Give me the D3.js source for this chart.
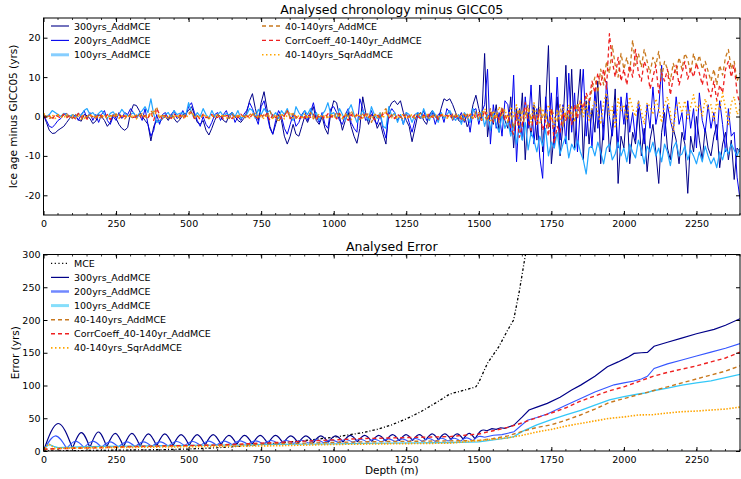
<!DOCTYPE html>
<html>
<head>
<meta charset="utf-8">
<script src="https://cdn.jsdelivr.net/npm/d3@7"></script>
<style>
  body { margin: 0; background: #fff; }
  svg text { font-family: "DejaVu Sans", sans-serif; fill: #000; }
</style>
</head>
<body>
<svg id="chart" width="741" height="479"></svg>
<script>
// ---------- top panel: ice age minus GICC05 (yrs), sampled every 10 m ----------
var topDepths = d3.range(0, 2410, 10);

var age300 = [
  0.5, -1.5, -3.5, -4.3, -4.2, -3.5, -3.0, -2.5, -1.5, -0.5,
  0.5, 0.0, -0.8, -1.2, 0.5, 0.2, -0.5, -1.8, -1.2, 0.5,
  0.0, -1.0, -2.5, -1.5, 0.5, -0.5, -2.0, -3.0, -3.5, -2.8,
  1.0, 3.0, 2.8, 1.5, 0.0, -1.0, -2.0, -6.2, -2.5, -1.0,
  -1.5, -0.5, 0.0, -1.0, 0.5, -0.5, -1.5, -0.8, 0.5, 0.8,
  1.5, 2.5, 0.5, -1.5, -2.0, -1.0, -3.5, -4.7, -3.0, -1.0,
  0.5, 0.0, -1.0, -1.5, 0.5, 1.0, 0.0, -1.0, -1.5, -0.5,
  1.0, 4.0, 5.8, 2.0, -1.0, 3.5, 6.3, 2.0, -2.5, -4.5,
  -2.0, 0.5, -1.0, -5.0, -7.0, -5.0, -2.0, -4.5, -5.0, -2.5,
  0.0, -1.5, 0.5, 2.5, -1.0, -2.0, 0.0, -3.0, -4.5, 1.0,
  4.0, 3.5, 0.0, -3.5, -1.0, 1.0, -2.5, -5.0, -6.8, -3.0,
  5.0, 1.0, -2.0, 0.5, 0.0, -3.0, -1.5, -4.5, -7.0, 2.0,
  3.5, 4.0, 3.0, 4.0, 1.0, -1.0, -2.5, -6.4, -3.0, 0.5,
  1.0, -1.0, -2.0, 0.5, 1.5, 0.0, -1.0, 2.0, 4.5, 4.0,
  4.5, 3.0, 1.0, -1.0, -1.5, 0.5, -2.6, -1.0, 3.0, 5.4,
  2.0, -1.0, 16.0, -5.2, 1.0, -2.0, 3.0, -4.0, 2.0, -1.0,
  -3.0, 5.0, -8.0, 2.0, -4.0, 6.0, -11.0, 1.0, -5.0, 3.0,
  -6.0, 8.0, -9.0, 2.0, 18.0, -12.0, -4.0, 5.0, -10.0, -2.0,
  13.0, -6.0, 12.0, -8.0, 3.0, 12.0, -11.0, 4.0, -7.0, 2.0,
  -4.0, 9.0, -12.0, -2.0, 5.0, -9.0, -3.0, 7.0, -17.0, -5.0,
  -8.0, 3.0, -12.0, -4.0, -7.0, 2.0, -10.0, -3.0, -14.0, -6.0,
  -2.0, -9.0, -17.0, -4.0, 1.0, -8.0, -11.0, -3.0, -6.0, -12.0,
  -4.0, -7.0, -19.5, -5.0, -9.0, 0.0, -6.0, -11.0, -3.0, -8.0,
  -10.0, -5.0, -2.0, -13.0, -7.0, -4.0, -11.0, -6.0, -16.0, -8.0,
  -9.0
];

var age200 = [
  0.3, -1.0, -2.5, -2.8, -2.0, -1.0, -0.5, 0.5, 0.8, 0.0,
  -0.5, 0.5, -1.0, 0.5, 1.5, -0.5, 1.0, -1.0, 0.5, -1.5,
  0.5, 1.5, -1.0, -2.0, 0.0, -1.0, 1.0, -0.5, 1.0, 0.5,
  2.0, 1.0, -0.5, 0.5, -1.0, 2.0, -2.0, -5.0, -3.5, 0.5,
  -2.0, 0.5, 1.0, -0.5, 0.5, 1.5, -0.5, 0.0, 1.5, 0.0,
  2.5, 3.5, 1.0, -1.0, -2.5, 0.0, -2.0, -3.0, -1.5, 0.5,
  1.0, -1.0, 0.5, 1.5, -0.5, 1.0, -1.5, 0.0, -1.0, 0.5,
  1.5, 3.5, 2.0, 0.0, -2.0, 2.5, 4.0, 0.5, -3.0, -4.5,
  -1.0, 1.5, 0.0, -3.0, -4.5, -2.0, 0.5, -2.5, -1.5, 0.5,
  1.5, -1.0, 1.0, 3.5, 0.0, -1.5, 1.0, -2.0, -3.0, 2.0,
  2.5, 1.0, -1.0, -2.0, 0.5, 2.0, -1.5, -3.0, -4.0, 4.5,
  2.0, -1.0, -0.5, 1.5, -1.0, -2.0, 0.5, -3.0, -5.5, 0.5,
  2.0, 1.0, -1.0, 0.5, -2.0, 1.0, -1.5, -4.0, -1.0, 1.0,
  -0.5, 1.5, -1.0, 0.0, 1.0, -2.0, 0.5, 1.0, -1.5, 2.0,
  1.0, -1.0, 0.5, -0.5, 1.0, -1.5, 0.5, -4.0, 1.5, 2.0,
  -2.0, 1.0, 3.0, 12.0, -7.0, 3.0, -3.0, 1.0, -5.0, 4.0,
  3.0, -4.0, 10.5, -11.5, 2.0, -6.0, 5.0, -3.0, 8.0, -7.0,
  2.0, -10.3, -15.7, 5.0, -3.0, 6.0, -8.0, 10.0, -6.0, 3.0,
  -7.0, 11.0, -4.0, 6.0, -9.0, 2.0, 12.0, -5.0, 4.0, -8.0,
  7.0, -3.0, 4.0, -6.0, 9.0, 0.0, -5.0, 3.0, -8.0, 5.0,
  -2.0, 6.0, -4.0, 1.0, -6.0, 4.0, -1.0, -7.0, 3.0, -3.0,
  7.5, -2.0, 2.0, 13.0, -5.0, 3.0, -1.0, -4.0, 5.0, -2.0,
  1.0, -6.0, 4.0, -3.0, 2.0, -8.0, 6.0, -1.0, -4.0, 3.0,
  -3.0, 1.0, -6.0, 4.0, -2.0, -9.0, 2.0, -5.0, -4.0, -15.4,
  -21.0
];

var age100 = [
  0.5, 0.0, 0.5, 1.5, 1.0, 0.5, 0.0, 0.8, 0.3, 0.0,
  0.5, -0.3, 0.8, 0.2, 1.5, 2.0, 0.5, 1.0, 0.0, 0.8,
  1.5, 0.5, -0.5, 0.8, 1.2, 0.0, 0.5, 1.8, 0.8, 0.2,
  0.5, 1.0, -0.2, 0.8, 1.5, 2.5, 1.0, 4.5, 0.5, -1.5,
  -1.0, -0.5, 0.5, 1.0, -0.3, 1.5, 0.5, 0.8, 1.0, 0.2,
  3.5, 1.0, -0.5, 1.0, 0.0, 2.0, 0.5, -0.5, 1.5, 0.0,
  0.5, 1.2, 0.0, 0.8, 0.3, 1.0, 0.0, 1.5, -0.5, 0.2,
  0.5, 2.0, 1.5, -0.5, 1.8, 0.5, 2.0, 1.0, 1.5, 0.0,
  1.0, -0.5, 1.5, 0.5, 2.0, 0.0, -1.0, 2.5, 1.0, 0.0,
  1.5, 0.5, 2.0, 0.0, 1.0, -1.0, 0.5, 1.5, 3.5, 0.5,
  1.0, -0.5, 2.0, 0.5, -1.0, 1.5, 3.0, 0.5, -1.5, 0.0,
  1.5, 0.5, -1.0, 2.5, 0.5, -0.5, 1.0, -2.5, -3.0, 2.5,
  0.0, 1.0, -1.5, 0.5, -2.0, 1.0, 0.5, -1.5, 0.5, 1.0,
  -0.5, 2.0, 0.0, -1.0, 1.5, 0.5, -1.5, 1.0, -0.5, 0.5,
  1.5, 0.0, -1.0, 0.5, -2.0, 1.0, 0.0, -1.5, 2.0, 0.5,
  -1.0, 1.5, -2.5, 0.5, -3.5, 1.0, -2.0, -4.0, 0.5, -3.0,
  -1.0, -5.0, -2.0, -7.0, -3.0, -6.0, -1.5, -8.5, -4.0, -6.0,
  -9.0, -5.0, -7.5, -3.0, -10.0, -6.5, -8.0, -4.0, -9.5, -7.0,
  -5.0, -10.5, -7.0, -8.5, -6.0, -9.0, -11.0, -14.6, -8.0, -7.5,
  -10.0, -6.5, -9.0, -12.0, -8.0, -7.0, -11.0, -9.5, -6.5, -10.0,
  -8.0, -11.5, -7.0, -9.0, -10.5, -6.0, -8.5, -12.0, -7.5, -9.0,
  -6.5, -10.0, -8.0, -11.5, -7.0, -9.0, -12.5, -8.0, -6.5, -10.0,
  -9.5, -7.5, -11.0, -8.5, -10.0, -12.0, -9.0, -11.5, -7.5, -10.0,
  -12.0, -10.5, -13.0, -9.0, -11.0, -8.0, -9.5, -7.0, -8.5, -10.0,
  -8.0
];

var age40to140 = [
  0.5, 0.0, -0.5, -0.3, 0.0, 0.5, -0.2, 0.8, 0.0, 0.3,
  -0.5, 0.5, 0.0, -0.8, 0.3, -0.2, 0.6, -0.5, 0.0, 0.4,
  -0.3, 0.5, -0.6, 0.2, 0.0, 0.7, -0.4, 0.1, -0.6, 0.3,
  0.0, -0.5, 0.4, -0.2, 0.8, 0.0, -0.6, 1.5, 0.5, 2.5,
  -0.5, 0.3, 0.0, -0.4, 0.6, -0.2, 0.3, -0.5, 0.0, 0.5,
  0.8, 1.5, -0.3, 0.2, -0.5, 0.4, 0.0, -0.6, 0.3, -0.2,
  0.5, -0.4, 0.2, 0.0, -0.5, 0.6, -0.2, 0.3, -0.3, 0.1,
  -0.5, 0.4, 1.0, -0.3, 0.2, -0.6, 0.5, 0.0, 1.5, -0.4,
  0.3, -1.5, 0.5, 0.0, 1.5, -0.4, 0.8, -0.5, 0.2, -0.3,
  0.5, -0.2, 1.0, -0.6, 0.3, 0.0, -0.8, 0.6, -0.3, 0.4,
  -0.5, 1.2, 0.0, -0.6, 0.8, -0.3, 1.5, -0.2, 0.4, -0.8,
  0.6, -0.4, 1.0, -1.5, 0.3, 0.8, -0.5, 1.2, 2.0, -0.3,
  0.5, -0.6, 0.3, 0.0, -0.8, 0.6, -0.2, 0.4, -0.5, 0.2,
  0.8, -0.3, 0.5, -0.7, 0.2, 0.6, -0.5, 0.3, 0.0, -0.4,
  0.5, -0.2, 0.8, -0.6, 0.3, -1.0, 0.6, 0.0, -0.5, 1.2,
  -0.8, 1.5, 0.2, -1.2, 2.0, -0.5, 1.0, -1.5, 2.5, 0.5,
  -1.5, 1.0, -3.0, -1.0, 2.0, -2.5, 0.5, 3.0, -1.0, 1.5,
  -2.0, 2.5, -0.5, 1.0, -3.0, 2.0, 0.0, -1.5, 3.0, -2.5,
  1.0, -0.5, 2.5, -1.0, 3.5, 0.5, 2.0, 5.0, 3.0, 7.0,
  10.0, 6.0, 12.0, 8.0, 14.0, 11.0, 18.0, 13.0, 10.0, 16.0,
  12.0, 15.0, 11.0, 19.4, 13.0, 16.0, 12.5, 17.0, 14.0, 11.0,
  15.0, 13.0, 16.5, 10.0, 14.0, 12.0, 9.0, 13.5, 11.0, 15.0,
  12.0, 16.0, 14.5, 11.0, 16.0, 13.0, 15.5, 12.0, 14.0, 11.5,
  9.0, 12.0, 8.0, 13.0, 10.5, 15.0, 17.0, 12.0, 14.0, 9.0,
  11.0
];

var ageCorr = [
  0.3, -0.5, 0.2, -0.8, 0.5, 0.0, -0.4, 0.6, -0.3, 0.2,
  0.0, -0.6, 0.8, -0.2, 0.4, -0.7, 0.3, 0.0, -0.5, 0.6,
  0.2, -0.4, 0.5, -0.8, 0.3, 0.0, 0.6, -0.5, 0.2, -0.3,
  0.6, -0.2, 0.0, 0.5, -0.6, 0.3, -0.4, 1.0, -1.0, 2.0,
  0.5, -0.8, 0.3, 0.0, -0.5, 0.6, -0.2, 0.4, -0.6, 0.2,
  0.5, 1.0, -0.5, 0.2, -0.8, 0.6, -0.3, 0.0, 0.5, -0.4,
  -0.2, 0.5, -0.6, 0.3, 0.0, -0.5, 0.4, -0.3, 0.6, -0.2,
  0.3, -0.5, 0.6, 0.0, -0.6, 0.4, -0.2, 0.8, -1.0, 0.5,
  -0.3, 0.6, -0.5, 0.2, 1.5, -0.6, 0.4, 0.0, -0.7, 0.3,
  -0.4, 0.5, -0.2, 0.6, -0.8, 0.3, 0.0, -0.5, 0.7, -0.2,
  0.4, -0.6, 0.8, -0.3, 0.2, -1.0, 0.5, -0.4, 0.6, 0.0,
  -0.5, 0.7, -0.2, 0.4, -0.8, 0.3, -0.5, 0.6, 1.2, -0.4,
  0.3, -0.5, 0.6, -0.2, 0.4, -0.7, 0.2, -0.3, 0.5, 0.0,
  -0.6, 0.4, -0.3, 0.7, -0.2, 0.3, -0.8, 0.5, 0.0, 0.3,
  -0.4, 0.6, -0.2, 0.3, -0.7, 0.5, -0.3, 0.4, 0.8, -0.5,
  0.6, -1.0, 1.5, -0.5, 1.0, -1.5, 0.5, -0.8, 1.8, -1.0,
  0.5, -3.0, -4.5, 1.0, -5.3, -2.0, 3.5, -1.0, -3.5, 0.5,
  -2.0, 1.5, -3.5, -1.0, -5.0, 2.0, -6.8, -2.5, -4.0, 1.0,
  -1.0, 2.0, -2.0, 3.0, -0.5, 4.0, 2.0, 6.0, 4.0, 9.0,
  6.0, 11.0, 8.0, 12.0, 7.0, 21.0, 14.0, 10.0, 15.0, 9.0,
  12.0, 8.0, 13.0, 10.0, 17.0, 11.0, 9.0, 14.0, 12.0, 7.0,
  10.0, 13.0, 6.0, 11.0, 9.0, 12.0, 5.5, 10.0, 13.0, 8.0,
  11.0, 14.0, 9.5, 12.0, 10.0, 13.5, 11.0, 8.0, 12.0, 7.0,
  5.0, 9.0, 4.0, 8.0, 6.0, 12.0, 14.0, 10.0, 13.0, 6.0,
  3.0
];

var ageSqr = [
  0.8, 0.2, -0.3, 0.5, -0.5, 0.3, 0.0, -0.4, 0.6, -0.2,
  0.4, -0.3, 0.2, 0.6, -0.5, 0.0, 0.5, -0.2, 0.3, -0.6,
  0.3, 0.0, -0.4, 0.5, -0.2, 0.6, -0.5, 0.2, 0.0, 0.4,
  -0.3, 0.5, -0.6, 0.2, 0.4, -0.2, 0.6, 0.0, 1.5, 0.5,
  -0.2, 0.4, -0.5, 0.3, 0.0, -0.4, 0.5, -0.2, 0.3, -0.5,
  0.6, 1.0, 0.0, -0.4, 0.3, -0.2, 0.5, -0.6, 0.2, 0.0,
  0.4, -0.3, 0.6, -0.5, 0.2, 0.0, -0.4, 0.5, -0.2, 0.3,
  0.0, -0.4, 0.5, 0.8, -0.3, 0.2, -0.6, 0.4, 0.0, -0.5,
  0.5, -0.2, 0.8, -0.6, 0.3, 1.2, -0.4, 0.5, 0.0, -0.3,
  0.6, -0.5, 0.2, 0.0, -0.4, 0.7, -0.2, 0.3, -0.6, 0.5,
  0.0, -0.3, 0.6, -0.5, 0.4, 0.0, -0.8, 0.5, -0.2, 0.7,
  -0.4, 0.3, 0.0, -0.6, 0.5, -0.2, 0.8, -0.5, 1.5, 0.2,
  -0.3, 0.5, -0.6, 0.2, 0.6, -0.4, 0.0, 0.5, -0.3, 0.8,
  0.2, -0.5, 0.6, 0.0, -0.4, 0.5, -0.2, 0.3, 0.7, -0.5,
  0.3, -0.6, 0.5, 0.0, -0.3, 0.8, -0.5, 0.6, -0.2, 0.4,
  1.0, -0.8, 2.0, 0.5, -1.5, 1.5, -0.5, 2.5, 0.0, 1.8,
  -1.0, 2.5, 0.0, 3.0, -2.0, 1.5, -0.5, 2.0, -1.5, 3.5,
  0.5, -2.0, 2.0, -1.0, 3.0, 0.0, -2.5, 1.5, -1.0, 2.5,
  -0.5, 3.0, 0.5, -1.5, 2.5, 4.0, 0.0, 3.0, -1.0, 2.0,
  4.0, 1.0, -2.0, 3.5, 6.0, 0.5, 2.5, -3.0, 4.5, 1.5,
  3.0, -1.0, 5.0, 2.0, 0.0, 4.0, 1.5, -2.0, 3.5, 2.5,
  0.5, 4.5, 2.0, -1.5, 3.0, 5.0, 1.0, -4.0, 2.5, 3.5,
  1.0, 4.0, -0.5, 2.5, 5.5, 1.5, 3.0, 0.0, 4.5, 2.0,
  3.0, -1.0, 4.0, 1.5, 6.0, 2.0, -2.0, 3.5, 5.0, 0.5,
  2.0
];

// ---------- bottom panel: error (yrs) ----------
var mceDepth = [0, 100, 200, 300, 400, 500, 600, 700, 800, 900, 1000, 1100, 1150, 1200, 1250,
  1300, 1350, 1400, 1450, 1490, 1500, 1530, 1570, 1600, 1620, 1640, 1660, 1680];
var mceErr = [0, 0.5, 1, 1.5, 2, 3, 5, 8, 12, 16, 21, 28, 33, 40, 49,
  60, 73, 87, 93, 98, 105, 134, 160, 185, 200, 245, 298, 340];

// oscillating part (0-1500 m): depths of the troughs, trough values and crest values
var arch300Knots = [0, 100, 160, 218, 276, 333, 390, 446, 502, 557, 612, 666, 720, 773, 826,
  878, 930, 981, 1032, 1082, 1131, 1179, 1226, 1272, 1317, 1361, 1404, 1446, 1487, 1528];
var arch300Low = [0, 4, 5, 6, 6.5, 7, 7.5, 8, 8.5, 9, 9.5, 10, 10.5, 11, 11.5,
  12, 12.5, 13, 13.5, 14, 14.5, 15, 15.5, 16, 16.5, 17, 17.5, 18, 18.5, 31];
var arch300High = [42, 28, 29, 27, 27, 26, 26, 25, 25, 25, 24, 24, 24, 24, 23,
  23, 23, 23, 24, 24, 24, 25, 25, 25, 26, 26, 26, 27, 31];
var err300Depth = [1528, 1545, 1560, 1575, 1590, 1605, 1621, 1650, 1673, 1700, 1736, 1780, 1820, 1851,
  1900, 1943, 1980, 2012, 2035, 2060, 2081, 2104, 2150, 2196, 2250, 2311, 2350, 2400];
var err300 = [31, 34, 33, 35.5, 34.5, 37, 39.6, 52, 62.6, 67, 72.7, 82, 93, 100.6,
  114, 128.6, 136, 142.9, 149, 150, 150.5, 160, 166, 172, 179, 185.6, 192, 202];

var arch200Knots = [0, 80, 140, 200, 258, 316, 373, 430, 486, 541, 596, 650, 704, 757, 810,
  862, 914, 965, 1016, 1066, 1116, 1164, 1212, 1259, 1305, 1350, 1394, 1437, 1479, 1520];
var arch200Low = [0, 4, 5, 5.5, 6, 6.5, 7, 7.5, 8, 8.5, 9, 9.5, 10, 10.5, 11,
  11.5, 12, 12.5, 13, 13, 13.5, 13.5, 14, 14, 14.5, 14.5, 15, 15, 15.5, 21];
var arch200High = [23, 15, 15, 14, 14, 14, 14, 14.5, 14.5, 15, 15, 15.5, 15.5, 16, 16,
  16.5, 17, 17, 17.5, 18, 18, 18.5, 18.5, 19, 19, 19.5, 19.5, 20, 22];
var err200Depth = [1520, 1550, 1580, 1621, 1667, 1700, 1736, 1800, 1851, 1900, 1966, 2000,
  2035, 2060, 2081, 2104, 2150, 2200, 2250, 2300, 2350, 2400];
var err200 = [21, 24, 25, 29.4, 47, 51, 56.4, 70, 80, 90, 101, 104,
  107, 110, 114, 126, 133, 139, 145, 151, 157, 164];

var err100Depth = [0, 10, 20, 35, 50, 100, 200, 300, 400, 500, 600, 700, 800, 900, 1000, 1100,
  1200, 1300, 1400, 1500, 1550, 1600, 1621, 1650, 1700, 1750, 1800, 1851, 1900, 1950, 2000,
  2050, 2081, 2100, 2150, 2200, 2250, 2300, 2350, 2400];
var err100 = [0, 7, 10, 7, 5, 6, 7, 7.5, 8, 8.5, 9, 9.5, 10, 10.5, 11, 11.5,
  12, 12.5, 13, 14, 17, 20, 22, 30, 40, 48, 55, 62, 70, 78, 83,
  87, 89, 92, 96, 100.6, 104, 107, 112, 117];

var err40Depth = [0, 50, 100, 200, 300, 400, 500, 600, 700, 800, 900, 1000, 1100, 1200, 1300,
  1400, 1500, 1550, 1600, 1650, 1700, 1750, 1800, 1850, 1900, 1950, 2000, 2050, 2100, 2150,
  2200, 2250, 2300, 2350, 2400];
var err40 = [2, 4, 5, 6, 7, 7.5, 8, 9, 10, 11, 12, 13, 14, 14.5, 15,
  15.5, 16, 19, 23, 30, 36, 40, 47, 55, 64, 74, 80, 86, 92, 98,
  104, 110, 116, 122, 130];

var errCorrDepth = [0, 100, 200, 300, 400, 500, 600, 700, 800, 900, 1000, 1100, 1200, 1300,
  1400, 1500, 1550, 1600, 1650, 1700, 1750, 1800, 1850, 1900, 1950, 2000, 2050, 2100, 2150,
  2200, 2250, 2300, 2350, 2400];
var errCorr = [3, 4, 5, 6.5, 7.5, 8.5, 9, 11, 13, 15, 17, 19, 20, 21,
  22, 26, 31, 36, 43, 51, 58, 66, 76, 84, 92, 98, 106, 114, 120,
  125, 130, 136, 142, 151];

var errSqrDepth = [0, 10, 20, 40, 100, 200, 300, 400, 500, 600, 700, 800, 900, 1000, 1100,
  1200, 1300, 1400, 1500, 1550, 1600, 1621, 1650, 1700, 1736, 1750, 1800, 1850, 1900, 1950,
  2000, 2050, 2100, 2150, 2200, 2250, 2300, 2350, 2400];
var errSqr = [0, 8, 10, 4, 4.5, 5, 5.5, 6, 6.5, 7, 7.5, 8, 9, 10, 10.5,
  11, 11.5, 12, 15.9, 18, 20, 21.8, 24, 29, 32, 33, 38, 42, 46, 49.8,
  52, 55, 55.5, 58, 60, 61, 62.6, 64, 67];

var xTicks = [0, 250, 500, 750, 1000, 1250, 1500, 1750, 2000, 2250];
var topYTicks = [-20, -10, 0, 10, 20];
var botYTicks = [0, 50, 100, 150, 200, 250, 300];

// ---------- styles ----------
var C300 = "#000088", C200top = "#0000ee", C200bot = "#3556ff",
    C100top = "#22a6ff", C100bot = "#35c8f8",
    C40 = "#c8781e", CCorr = "#ee2020", CSqr = "#ffa500";

var svg = d3.select("#chart");
var left = 43.5, right = 740;
var x = d3.scaleLinear().domain([0, 2400]).range([left, right]);
var yTop = d3.scaleLinear().domain([-25, 25]).range([215, 18]);
var yBot = d3.scaleLinear().domain([0, 300]).range([451, 254.5]);
var fmt = function(d) { return d < 0 ? "-" + Math.abs(d) : String(d); };

function zip(xs, ys) {
  return xs.map(function(d, i) { return [d, ys[i]]; });
}

function clip(y, name) {
  var r = y.range();
  svg.append("clipPath").attr("id", name)
    .append("rect").attr("x", left).attr("y", r[1]).attr("width", right - left).attr("height", r[0] - r[1]);
}

function axes(y, yTicks, yLabel, yLabelX) {
  var r = y.range();
  // minor x ticks every 50 m, bottom and top
  var minor = d3.range(0, 2401, 50);
  [[r[0], -2], [r[1], 2]].forEach(function(p) {
    svg.append("g").selectAll("line").data(minor).enter().append("line")
      .attr("x1", function(d) { return x(d); }).attr("x2", function(d) { return x(d); })
      .attr("y1", p[0]).attr("y2", p[0] + p[1]).attr("stroke", "#000").attr("stroke-width", 0.8);
  });

  var xb = svg.append("g").attr("transform", "translate(0," + r[0] + ")")
    .call(d3.axisBottom(x).tickValues(xTicks).tickSize(-4).tickPadding(5).tickFormat(fmt));
  var xt = svg.append("g").attr("transform", "translate(0," + r[1] + ")")
    .call(d3.axisTop(x).tickValues(xTicks).tickSize(-4).tickFormat(""));
  var yl = svg.append("g").attr("transform", "translate(" + left + ",0)")
    .call(d3.axisLeft(y).tickValues(yTicks).tickSize(-4).tickPadding(3).tickFormat(fmt));
  var yr = svg.append("g").attr("transform", "translate(" + right + ",0)")
    .call(d3.axisRight(y).tickValues(yTicks).tickSize(-4).tickFormat(""));
  [xb, xt, yl, yr].forEach(function(a) {
    a.select(".domain").remove();
    a.selectAll("text").attr("font-size", 9.5).attr("font-family", "DejaVu Sans");
  });

  svg.append("rect").attr("x", left).attr("y", r[1]).attr("width", right - left).attr("height", r[0] - r[1])
    .attr("fill", "none").attr("stroke", "#000").attr("stroke-width", 1);

  svg.append("text")
    .attr("transform", "translate(" + yLabelX + "," + ((r[0] + r[1]) / 2) + ") rotate(-90)")
    .attr("text-anchor", "middle").attr("font-size", 10.5).text(yLabel);
}

function legend(items, x0, y0, dy) {
  var g = svg.append("g");
  items.forEach(function(s, i) {
    var yy = y0 + i * dy;
    g.append("line").attr("x1", x0).attr("x2", x0 + 18).attr("y1", yy).attr("y2", yy)
      .attr("stroke", s.color).attr("stroke-width", s.lw).attr("stroke-dasharray", s.dash || null)
      .attr("stroke-opacity", s.op || 1);
    g.append("text").attr("x", x0 + 23).attr("y", yy + 3.5).attr("font-size", 9.5).text(s.name);
  });
}

// ---------- top panel ----------
clip(yTop, "clipTop");
var lineTop = d3.line().x(function(d) { return x(d[0]); }).y(function(d) { return yTop(d[1]); });
var topSeries = [
  { values: age300, color: C300, lw: 1.0 },
  { values: age200, color: C200top, lw: 1.0 },
  { values: age100, color: C100top, lw: 1.2 },
  { values: age40to140, color: C40, lw: 1.3, dash: "4,3" },
  { values: ageCorr, color: CCorr, lw: 1.3, dash: "4,3" },
  { values: ageSqr, color: CSqr, lw: 1.5, dash: "1.5,2.5" }
];
var gTop = svg.append("g").attr("clip-path", "url(#clipTop)");
topSeries.forEach(function(s) {
  gTop.append("path").datum(zip(topDepths, s.values))
    .attr("d", lineTop).attr("fill", "none")
    .attr("stroke", s.color).attr("stroke-width", s.lw)
    .attr("stroke-dasharray", s.dash || null).attr("stroke-linejoin", "round");
});
axes(yTop, topYTicks, "Ice age minus GICC05 (yrs)", 17);
svg.append("text").attr("x", (left + right) / 2).attr("y", 14).attr("text-anchor", "middle")
  .attr("font-size", 12.5).text("Analysed chronology minus GICC05");
legend([
  { name: "300yrs_AddMCE", color: C300, lw: 1.1 },
  { name: "200yrs_AddMCE", color: C200top, lw: 1.1 },
  { name: "100yrs_AddMCE", color: C100top, lw: 3, op: 0.55 }
], 51, 26, 14.4);
legend([
  { name: "40-140yrs_AddMCE", color: C40, lw: 1.3, dash: "4,3" },
  { name: "CorrCoeff_40-140yr_AddMCE", color: CCorr, lw: 1.3, dash: "4,3" },
  { name: "40-140yrs_SqrAddMCE", color: CSqr, lw: 1.5, dash: "1.5,2.5" }
], 262, 26, 14.4);

// ---------- bottom panel ----------
clip(yBot, "clipBot");
var lineBot = d3.line().x(function(d) { return x(d[0]); }).y(function(d) { return yBot(d[1]); });
var archLine = d3.line().x(function(d) { return x(d[0]); }).y(function(d) { return yBot(d[1]); })
  .curve(d3.curveNatural);
function archPath(knots, lows, highs) {
  var p = "";
  for (var i = 0; i < highs.length; i++) {
    p += archLine([[knots[i], lows[i]], [(knots[i] + knots[i + 1]) / 2, highs[i]], [knots[i + 1], lows[i + 1]]]);
  }
  return p;
}
var gBot = svg.append("g").attr("clip-path", "url(#clipBot)");
gBot.append("path").datum(zip(mceDepth, mceErr)).attr("d", lineBot).attr("fill", "none")
  .attr("stroke", "#000").attr("stroke-width", 1.3).attr("stroke-dasharray", "2.5,2,1,2");
gBot.append("path").attr("d", archPath(arch300Knots, arch300Low, arch300High) + lineBot(zip(err300Depth, err300)))
  .attr("fill", "none").attr("stroke", C300).attr("stroke-width", 1.2);
gBot.append("path").attr("d", archPath(arch200Knots, arch200Low, arch200High) + lineBot(zip(err200Depth, err200)))
  .attr("fill", "none").attr("stroke", C200bot).attr("stroke-width", 1.1);
gBot.append("path").datum(zip(err100Depth, err100)).attr("d", lineBot).attr("fill", "none")
  .attr("stroke", C100bot).attr("stroke-width", 1.3);
gBot.append("path").datum(zip(err40Depth, err40)).attr("d", lineBot).attr("fill", "none")
  .attr("stroke", C40).attr("stroke-width", 1.4).attr("stroke-dasharray", "4,3");
gBot.append("path").datum(zip(errCorrDepth, errCorr)).attr("d", lineBot).attr("fill", "none")
  .attr("stroke", CCorr).attr("stroke-width", 1.4).attr("stroke-dasharray", "4,3");
gBot.append("path").datum(zip(errSqrDepth, errSqr)).attr("d", lineBot).attr("fill", "none")
  .attr("stroke", CSqr).attr("stroke-width", 1.6).attr("stroke-dasharray", "1.5,1.5");

axes(yBot, botYTicks, "Error (yrs)", 19);
svg.append("text").attr("x", (left + right) / 2).attr("y", 250.5).attr("text-anchor", "middle")
  .attr("font-size", 12.5).text("Analysed Error");
svg.append("text").attr("x", (left + right) / 2).attr("y", 474).attr("text-anchor", "middle")
  .attr("font-size", 10.5).text("Depth (m)");
legend([
  { name: "MCE", color: "#000", lw: 1.3, dash: "1.2,2.5" },
  { name: "300yrs_AddMCE", color: C300, lw: 1.2 },
  { name: "200yrs_AddMCE", color: C200bot, lw: 2.5, op: 0.7 },
  { name: "100yrs_AddMCE", color: C100bot, lw: 3, op: 0.6 },
  { name: "40-140yrs_AddMCE", color: C40, lw: 1.4, dash: "4,3" },
  { name: "CorrCoeff_40-140yr_AddMCE", color: CCorr, lw: 1.4, dash: "4,3" },
  { name: "40-140yrs_SqrAddMCE", color: CSqr, lw: 1.6, dash: "1.5,2.5" }
], 51, 263.3, 14.1);
</script>
</body>
</html>
